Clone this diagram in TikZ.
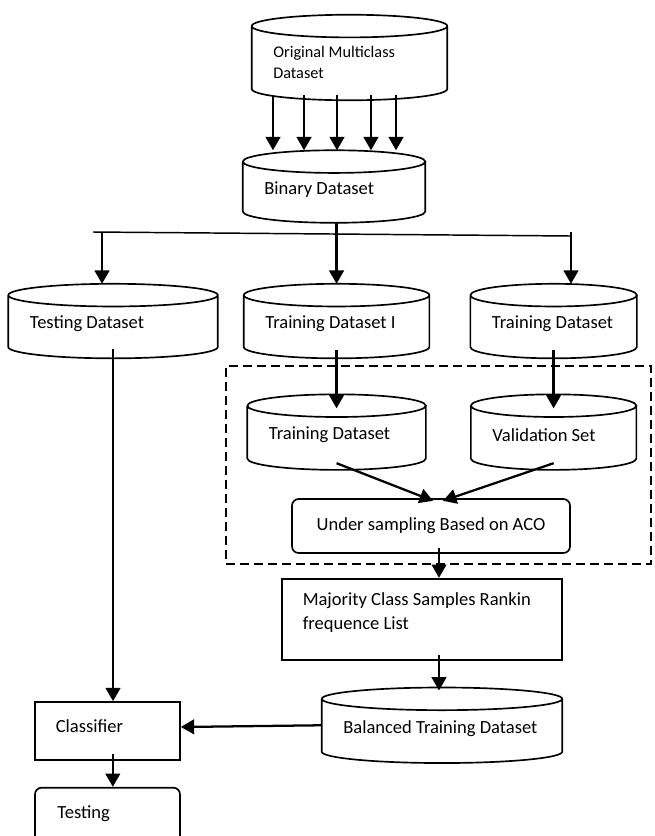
\documentclass[tikz,border=0pt]{standalone}
\usepackage{fontspec}
\setmainfont{Carlito}
\usetikzlibrary{positioning, arrows.meta, calc}
\newcommand{\boxfont}{\fontsize{13.9pt}{18pt}\selectfont}
\newcommand{\smallboxfont}{\fontsize{12.2pt}{15.75pt}\selectfont}
\tikzset{
    db/.style={rectangle, inner sep=0pt, minimum height=55.5pt},
    db text/.style={anchor=west, xshift=16pt, yshift=-2.25pt, inner sep=0pt, align=left, font=\boxfont},
    plain box/.style={rectangle, draw, line width=1.25pt, inner sep=0pt},
    round box/.style={rectangle, rounded corners=5pt, draw, line width=1.25pt, inner sep=0pt, font=\boxfont},
    group box/.style={rectangle, draw, dash pattern=on 7pt off 3.5pt, line width=1.5pt, inner sep=0pt},
    arr/.style={-{Triangle[length=10pt, width=11pt]}, line width=1.7pt},
    link/.style={line width=1.1pt},
}
\begin{document}
\begin{tikzpicture}[x=0.75pt, y=-0.75pt]
\useasboundingbox (0,0) rectangle (654,836);
\node[db, minimum width=146.25pt, minimum height=63.75pt, label={[db text, yshift=-1.5pt, font=\smallboxfont]west:Original Multiclass\\Dataset}] (orig) at (349.5,57.5) {};
\node[db, minimum width=136.5pt, minimum height=54pt, below=37.5pt of orig, xshift=-11.6pt, label={[db text]west:Binary Dataset}] (bin) {};
\node[db, minimum width=138.75pt, below=45.75pt of bin, xshift=1.9pt, label={[db text]west:Training Dataset I}] (trainI) {};
\node[db, minimum width=156.75pt, left=19.5pt of trainI, label={[db text]west:Testing Dataset}] (test) {};
\node[db, minimum width=124.5pt, right=30.75pt of trainI, label={[db text]west:Training Dataset}] (trainR) {};
\node[db, minimum width=133.5pt, minimum height=56.25pt, below=27pt of trainI, label={[db text]west:Training Dataset}] (trainIn) {};
\node[db, minimum width=123.75pt, minimum height=56.25pt, right=33.75pt of trainIn, label={[db text]west:Validation Set}] (valid) {};
\node[round box, minimum width=208.5pt, minimum height=40.5pt] (under) at (431,526) {Under sampling Based on ACO};
\node[plain box, minimum width=210pt, minimum height=60.75pt, below=18pt of under, xshift=-6.75pt, label={[db text, yshift=7pt]west:Majority Class Samples Rankin\\frequence List}] (major) {};
\node[db, minimum width=180pt, minimum height=56.25pt, below=20.25pt of major, xshift=15pt, label={[db text]west:Balanced Training Dataset}] (bal) {};
\node[plain box, minimum width=108.75pt, minimum height=43.5pt, label={[db text, yshift=6pt]west:Classifier}] (clf) at (107.5,731) {};
\node[round box, minimum width=108.75pt, minimum height=43pt, below=19.5pt of clf, label={[db text, xshift=1.25pt, yshift=4.5pt]west:Testing}] (testing) {};
\node[group box, minimum width=318.75pt, minimum height=148.5pt] (aco) at (438.5,465) {};
\foreach \c in {orig,bin,test,trainI,trainR,trainIn,valid,bal}
  \draw[line width=1.25pt] let \p1=(\c.north west), \p2=(\c.south east), \n1={(\x2-\x1)/2} in
    (\x1,\y1-8.5pt) arc[start angle=180, end angle=-180, x radius={\n1*1pt}, y radius=8.5pt]
    (\x1,\y1-8.5pt) -- (\x1,\y2+8.5pt) arc[start angle=180, end angle=360, x radius={\n1*1pt}, y radius=8.5pt] -- (\x2,\y1-8.5pt);
\foreach \d in {-57.4,-34.1,-9.4,16.1,34.9}{
  \coordinate (s) at ([xshift=\d pt, yshift=4pt]orig.south);
  \draw[arr] (s) -- (s |- bin.north);
}
\draw[arr] (bin.south -| trainI.north) -- (trainI.north);
\coordinate (brL) at (102,232);
\coordinate (brR) at (571,236);
\draw[link] ([xshift=-6.75pt]brL) -- (brR);
\draw[arr] (brL) -- (brL |- test.north);
\draw[arr] ([yshift=3pt]brR) -- (brR |- trainR.north);
\draw[arr] ([yshift=6pt]trainI.south) -- ([yshift=-10.5pt]trainIn.north);
\draw[arr] ([yshift=6pt]trainR.south) -- ([yshift=-10.5pt]valid.north);
\draw[arr] ([yshift=5pt]trainIn.south) -- ([xshift=1.5pt, yshift=-2pt]under.north);
\draw[arr] ([yshift=5pt]valid.south) -- ([xshift=9pt, yshift=-2pt]under.north);
\draw[arr] ([xshift=6pt, yshift=4.5pt]under.south) -- ([xshift=12.75pt]major.north);
\draw[arr] ([xshift=12.75pt, yshift=4.5pt]major.south) -- ([xshift=-2.25pt, yshift=-2.25pt]bal.north);
\draw[arr] (bal.west) -- ([yshift=3pt]clf.east);
\draw[arr] ([yshift=7pt]test.south) -- (test.south |- clf.north);
\draw[arr] ([xshift=4pt, yshift=5pt]clf.south) -- ([xshift=4pt]testing.north);
\end{tikzpicture}
\end{document}
